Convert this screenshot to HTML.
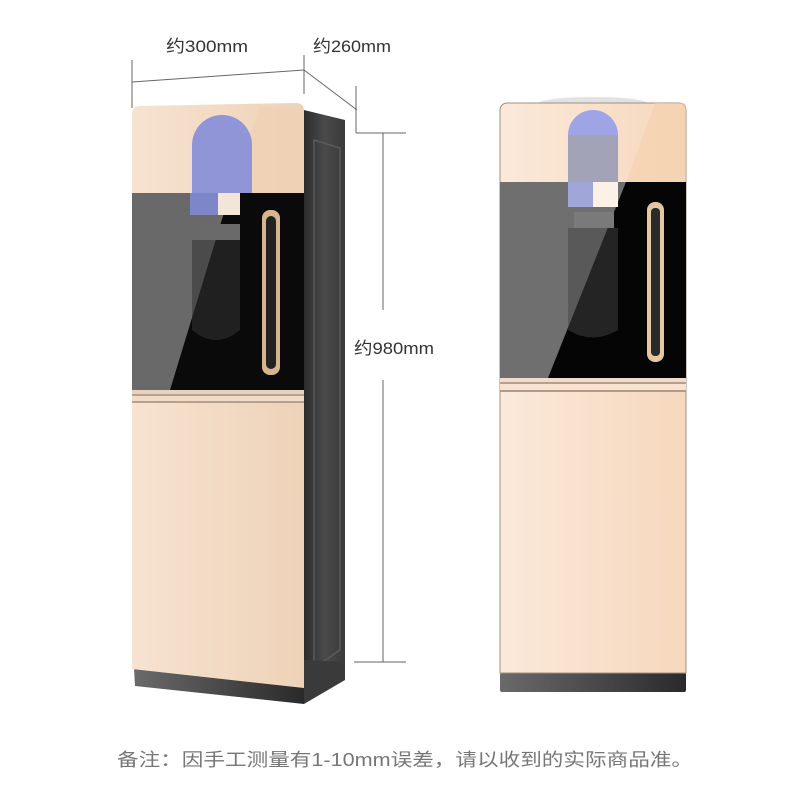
<!DOCTYPE html>
<html><head><meta charset="utf-8"><style>
html,body{margin:0;padding:0;background:#fff;}
svg{display:block;}
text{font-family:"Liberation Sans","Noto Sans CJK SC",sans-serif;}
</style></head><body>
<svg width="800" height="800" viewBox="0 0 800 800" xmlns="http://www.w3.org/2000/svg">
<defs>
<linearGradient id="beige" x1="0" x2="1" y1="0" y2="0">
<stop offset="0" stop-color="#f6e3d0"/><stop offset="1" stop-color="#eed2b8"/></linearGradient>
<linearGradient id="beige2" x1="0" x2="1" y1="0" y2="0">
<stop offset="0" stop-color="#fbe9da"/><stop offset="1" stop-color="#f6d8bd"/></linearGradient>
<linearGradient id="side" x1="0" x2="1"><stop offset="0" stop-color="#2c2c2c"/><stop offset="0.5" stop-color="#4a4a4a"/><stop offset="1" stop-color="#3a3a3a"/></linearGradient>
<linearGradient id="base" x1="0" x2="1"><stop offset="0" stop-color="#6a6a6a"/><stop offset="1" stop-color="#2a2a2a"/></linearGradient>
</defs>

<g stroke="#666" stroke-width="1" fill="none">
<line x1="132" y1="60" x2="132" y2="108"/>
<line x1="132" y1="82" x2="304" y2="70"/>
<line x1="304" y1="55" x2="304" y2="94"/>
<line x1="304" y1="70" x2="357" y2="110"/>
<line x1="356" y1="86" x2="356" y2="133"/>
<line x1="356" y1="133" x2="406" y2="133"/>
<line x1="383" y1="133" x2="383" y2="310"/>
<line x1="383" y1="380" x2="383" y2="662"/>
<line x1="354" y1="662" x2="406" y2="662"/>
</g>
<text x="166" y="52" font-size="17" fill="#333" textLength="82" lengthAdjust="spacingAndGlyphs">约300mm</text>
<text x="313" y="52" font-size="17" fill="#333" textLength="78" lengthAdjust="spacingAndGlyphs">约260mm</text>
<text x="354" y="354" font-size="17" fill="#333" textLength="80" lengthAdjust="spacingAndGlyphs">约980mm</text>

<polygon points="304,110 345,120 345,662 304,690" fill="url(#side)"/>
<polygon points="314,140 340,148 340,650 314,668" fill="none" stroke="#5a5a5a" stroke-width="1.5"/>
<polygon points="304,660 345,662 345,680 304,704" fill="#3a3a3a"/>
<polygon points="134,668 304,686 304,704 135,686" fill="url(#base)"/>
<path d="M140,106 L296,103 Q304,103 304,111 L304,688 L132,669 L132,114 Q132,106 140,106 Z" fill="url(#beige)"/>
<rect x="132" y="193" width="172" height="197" fill="#0a0a0a"/>
<polygon points="132,193 230,193 170,390 132,390" fill="#8a8a8a" opacity="0.75"/>
<polygon points="230,193 304,193 304,110 260,106" fill="#efcfaf" opacity="0.5"/>
<rect x="132" y="390" width="172" height="4" fill="#e9d3bf"/>
<rect x="132" y="394" width="172" height="2" fill="#b7a293"/>
<rect x="132" y="396" width="172" height="5" fill="#f1dcc9"/>
<rect x="132" y="401" width="172" height="2" fill="#b5a090"/>
<circle cx="222" cy="145" r="30" fill="#8f95d6"/>
<rect x="192" y="145" width="60" height="48" fill="#8f95d6"/>
<rect x="190" y="193" width="28" height="22" fill="#7c86c8"/>
<rect x="218" y="193" width="22" height="22" fill="#f3e6d8"/>
<rect x="200" y="224" width="40" height="16" fill="#6a6a6a"/>
<path d="M192,240 L240,240 L240,330 Q216,350 192,330 Z" fill="#333" opacity="0.55"/>
<rect x="262" y="210" width="18" height="165" rx="8" fill="#d6b48d"/>
<rect x="266" y="216" width="10" height="153" rx="5" fill="#222"/>

<ellipse cx="593" cy="104" rx="56" ry="7" fill="#e2e2e2"/>
<rect x="500" y="673" width="186" height="19" rx="2" fill="url(#base)"/>
<path d="M508,103 L678,103 Q686,103 686,111 L686,673 L500,673 L500,111 Q500,103 508,103 Z" fill="url(#beige2)" stroke="#a09080" stroke-width="1"/>
<rect x="500" y="182" width="186" height="196" fill="#050505"/>
<polygon points="500,182 626,182 548,378 500,378" fill="#8a8a8a" opacity="0.8"/>
<polygon points="626,182 686,182 686,103 655,103" fill="#f4cfa9" opacity="0.55"/>
<rect x="500" y="378" width="186" height="4" fill="#efdccb"/>
<rect x="500" y="382" width="186" height="2" fill="#b5a192"/>
<rect x="500" y="384" width="186" height="6" fill="#f7e3cf"/>
<rect x="500" y="390" width="186" height="2" fill="#b09b8a"/>
<circle cx="593" cy="135" r="25" fill="#9ea4e6"/>
<rect x="568" y="135" width="50" height="47" fill="#a3a3b8"/>
<rect x="568" y="182" width="25" height="25" fill="#a0a6d8"/>
<rect x="593" y="182" width="25" height="25" fill="#fbf1e6"/>
<rect x="574" y="212" width="40" height="16" fill="#7a7a7a"/>
<path d="M568,228 L618,228 L618,330 Q593,345 568,330 Z" fill="#444" opacity="0.5"/>
<rect x="647" y="202" width="17" height="160" rx="8" fill="#e6c7a4"/>
<rect x="651" y="208" width="9" height="148" rx="4" fill="#2a2a2a"/>

<text x="117" y="766" font-size="18" fill="#777" textLength="576" lengthAdjust="spacingAndGlyphs">备注：因手工测量有1-10mm误差，请以收到的实际商品准。</text>
</svg>
</body></html>
